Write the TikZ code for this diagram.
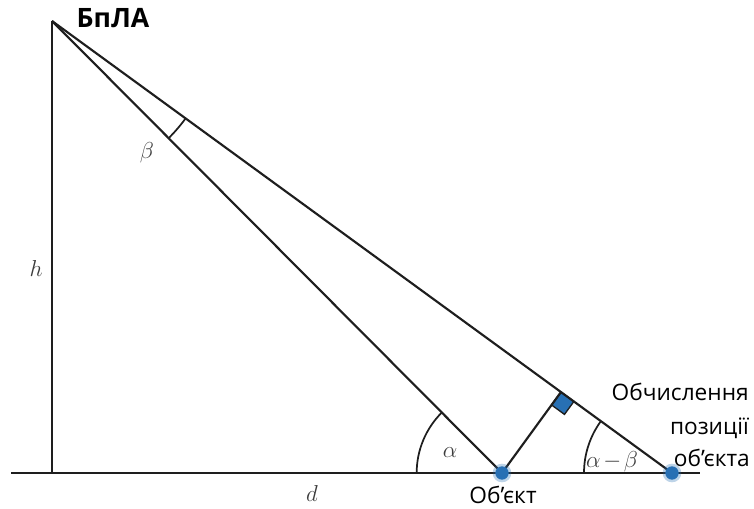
\documentclass[tikz,border=0pt]{standalone}
\usepackage{fontspec}
\newfontfamily\labelfont{Open Sans}
\usetikzlibrary{calc,angles}
\definecolor{dotblue}{RGB}{40,112,180}
\definecolor{linecol}{RGB}{30,30,30}
\definecolor{mathcol}{RGB}{60,60,60}
\tikzset{
  geo/.style={draw=linecol, line width=1.6pt},
  arcline/.style={draw=linecol, line width=1.3pt},
  dotmark/.style={circle, fill=dotblue, inner sep=0pt, minimum size=10pt},
  glow/.style={circle, fill=dotblue, inner sep=0pt, minimum size=14pt, opacity=0.3},
  lbl/.style={font=\labelfont\fontsize{17}{19}\selectfont, text=black, inner sep=0pt},
  mlbl/.style={font=\fontsize{19}{19}\selectfont, text=mathcol, inner sep=0pt},
}
\begin{document}
\begin{tikzpicture}[x=0.75pt,y=0.75pt]
\useasboundingbox (0,0) rectangle (754,508);
% points
\coordinate (T) at (52,487);
\coordinate (B) at (52,35);
\coordinate (G0) at (11,35);
\coordinate (G1) at (700,35);
\coordinate (O) at (502,35);
\coordinate (C) at (672,35);
\coordinate (F) at ($(T)!(O)!(C)$);
% right-angle marker
\coordinate (Fc) at ($(F)!12pt!(C)$);
\coordinate (Fo) at ($(F)!12pt!(O)$);
\filldraw[fill=dotblue, draw=linecol, line width=1pt] (F) -- (Fc) -- ($(Fc)+(Fo)-(F)$) -- (Fo) -- cycle;
% lines
\draw[geo] (G0) -- (G1);
\draw[geo] (B) -- (T);
\draw[geo] (T) -- (O);
\draw[geo] (T) -- (C);
\draw[geo] (O) -- (F);
% angle arcs
\pic[arcline, angle radius=64pt] {angle = T--O--B};
\pic[arcline, angle radius=66pt] {angle = T--C--O};
\pic[arcline, angle radius=124pt] {angle = O--T--C};
% dots
\node[glow] at (O) {};
\node[dotmark] (objdot) at (O) {};
\node[glow] at (C) {};
\node[dotmark] (calcdot) at (C) {};
% labels
\node[lbl, font=\labelfont\bfseries\fontsize{20}{22}\selectfont] (uav) at (113,490) {БпЛА};
\node[lbl, anchor=east] (l1) at (749,116) {Обчислення};
\node[lbl, anchor=east] (l2) at (749,80) {позиції};
\node[lbl, anchor=east] (l3) at (750,50) {об’єкта};
\node[lbl] (obj) at (503,13) {Об’єкт};
\node[mlbl] (h) at (36,240) {$h$};
\node[mlbl] (d) at (312,15) {$d$};
\node[mlbl] (beta) at (147,355) {$\beta$};
\node[mlbl] (alpha) at (450,55) {$\alpha$};
\node[mlbl] (amb) at (612,46) {$\alpha\mkern-2mu-\mkern-2mu\beta$};
\end{tikzpicture}
\end{document}
